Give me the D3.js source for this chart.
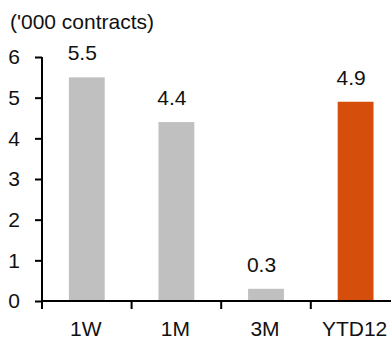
<!DOCTYPE html>
<html>
<head>
<meta charset="utf-8">
<script src="https://cdn.jsdelivr.net/npm/d3@7"></script>
<style>
  html, body { margin: 0; padding: 0; background: #fff; }
  svg { display: block; font-family: "Liberation Sans", Arial, sans-serif; }
</style>
</head>
<body>
<svg id="chart" width="391" height="340"></svg>
<script>
// Contract volumes by period ('000 contracts)
const categories = ["1W", "1M", "3M", "YTD12"];
const values = [5.5, 4.4, 0.3, 4.9];
const barColors = ["#c0c0c0", "#c0c0c0", "#c0c0c0", "#d54e0b"];
const yTicks = [0, 1, 2, 3, 4, 5, 6];
const unitLabel = "('000 contracts)";

const svg = d3.select("#chart");
const x0 = 42, y0 = 301, yTop = 57;
const step = 89.6;
const fs = 21;

const x = d3.scaleBand()
  .domain(categories)
  .range([x0, x0 + step * categories.length])
  .paddingInner(0.6)
  .paddingOuter(0.3);

const y = d3.scaleLinear().domain([0, 6]).range([y0, yTop]);

// Bars
svg.selectAll("rect.bar")
  .data(categories)
  .join("rect")
  .attr("class", "bar")
  .attr("x", d => x(d))
  .attr("width", x.bandwidth())
  .attr("y", (d, i) => y(values[i]))
  .attr("height", (d, i) => y(0) - y(values[i]))
  .attr("fill", (d, i) => barColors[i]);

// Value labels above bars
svg.selectAll("text.val")
  .data(categories)
  .join("text")
  .attr("class", "val")
  .attr("x", d => x(d) + x.bandwidth() / 2 - 4.5)
  .attr("y", (d, i) => y(values[i]) - 17)
  .attr("text-anchor", "middle")
  .attr("font-size", fs)
  .attr("fill", "#111")
  .text((d, i) => values[i].toFixed(1));

// Y axis
const yAxis = d3.axisLeft(y)
  .tickValues(yTicks)
  .tickSize(7)
  .tickPadding(15)
  .tickFormat(d3.format("d"));
const gy = svg.append("g").attr("transform", `translate(${x0},0)`).call(yAxis);
gy.select(".domain").attr("stroke", "#000").attr("stroke-width", 2)
  .attr("d", `M0,${y0}V${yTop}`);
gy.selectAll(".tick line").attr("stroke", "#000").attr("stroke-width", 2);
gy.selectAll(".tick text").attr("font-size", fs).attr("fill", "#111")
  .attr("font-family", "Liberation Sans, Arial, sans-serif");

// X axis with tick marks at band boundaries
const gx = svg.append("g").attr("transform", `translate(0,${y0})`);
gx.append("line")
  .attr("x1", x0).attr("x2", x.range()[1])
  .attr("stroke", "#000").attr("stroke-width", 2);
const bounds = d3.range(categories.length + 1).map(i => x0 + i * x.step());
gx.selectAll("line.tk")
  .data(bounds)
  .join("line")
  .attr("class", "tk")
  .attr("x1", d => d).attr("x2", d => d)
  .attr("y1", 0).attr("y2", 8)
  .attr("stroke", "#000").attr("stroke-width", 2);
gx.selectAll("text.cat")
  .data(categories)
  .join("text")
  .attr("class", "cat")
  .attr("x", d => x(d) + x.bandwidth() / 2 - 1)
  .attr("y", 34.5)
  .attr("text-anchor", "middle")
  .attr("font-size", fs)
  .attr("fill", "#111")
  .text(d => d);

// Unit label
svg.append("text")
  .attr("x", 10).attr("y", 29)
  .attr("font-size", fs)
  .attr("fill", "#111")
  .text(unitLabel);
</script>
</body>
</html>
